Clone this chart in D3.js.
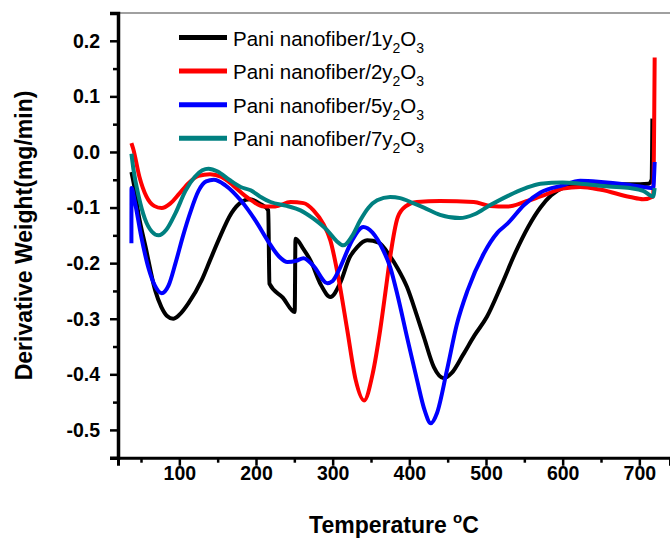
<!DOCTYPE html>
<meta charset="utf-8">

<!-- Load d3.js -->
<script src="https://d3js.org/d3.v7.min.js"></script>
<style>
  body { margin: 0; background: #fff; }
  text { font-family: "Liberation Sans", Arial, sans-serif; }
</style>

<div id="my_dataviz"></div>

<script>
// series names and colours
var seriesNames = ["1", "2", "5", "7"];
var seriesColors = ["#000000", "#ff0000", "#0000ff", "#008080"];

// tick values and labels
var xTicks = [100, 200, 300, 400, 500, 600, 700];
var xTickLabels = ["100", "200", "300", "400", "500", "600", "700"];
var xMinor = [50, 150, 250, 350, 450, 550, 650, 750];
var yTicks = [0.2, 0.1, 0.0, -0.1, -0.2, -0.3, -0.4, -0.5];
var yTickLabels = ["0.2", "0.1", "0.0", "-0.1", "-0.2", "-0.3", "-0.4", "-0.5"];
var yMinor = [0.25, 0.15, 0.05, -0.05, -0.15, -0.25, -0.35, -0.45, -0.55];

// [temperature, derivative weight]
var pani1 = [[37.5,-0.036],[41,-0.06],[46.5,-0.11],[56,-0.171],[68.5,-0.249],[76.6,-0.279],[84,-0.295],[92,-0.3],[100,-0.293],[112,-0.272],[129,-0.231],[140,-0.195],[151,-0.159],[168,-0.11],[181,-0.09],[192,-0.085],[205,-0.093],[216,-0.105],[217.5,-0.237],[235,-0.262],[250.5,-0.288],[251.5,-0.156],[262,-0.175],[271,-0.195],[285,-0.24],[297,-0.261],[310,-0.235],[322,-0.19],[332,-0.171],[345,-0.159],[360,-0.163],[375,-0.188],[385,-0.21],[397,-0.243],[410,-0.295],[419,-0.333],[432,-0.387],[445,-0.407],[455,-0.398],[470,-0.365],[485,-0.33],[501,-0.297],[520,-0.24],[538,-0.182],[555,-0.135],[571,-0.1],[585,-0.078],[601,-0.064],[630,-0.057],[660,-0.058],[690,-0.058],[712,-0.057],[716,-0.05],[717,0.06]];
var pani2 = [[37.5,0.016],[40,0.005],[48,-0.045],[57,-0.08],[67,-0.097],[77,-0.101],[88,-0.093],[100,-0.075],[112,-0.056],[125,-0.043],[140,-0.04],[155,-0.045],[170,-0.06],[185,-0.078],[195,-0.088],[210,-0.098],[225,-0.098],[245,-0.09],[262,-0.092],[275,-0.105],[288,-0.13],[297,-0.159],[308,-0.23],[319,-0.32],[330,-0.41],[341,-0.447],[352,-0.4],[362,-0.32],[370,-0.24],[375,-0.189],[385,-0.117],[395,-0.098],[410,-0.09],[440,-0.088],[484,-0.09],[505,-0.097],[528,-0.098],[550,-0.09],[571,-0.08],[600,-0.066],[623,-0.063],[650,-0.068],[688,-0.081],[705,-0.085],[718,-0.08],[720,0.17]];
var pani5 = [[37.5,-0.164],[37.6,-0.065],[42,-0.09],[50,-0.15],[60,-0.21],[68,-0.24],[77,-0.254],[86,-0.24],[95,-0.2],[105,-0.15],[114,-0.11],[125,-0.07],[135,-0.053],[145,-0.05],[160,-0.06],[180,-0.087],[200,-0.125],[215,-0.159],[230,-0.188],[241,-0.198],[252,-0.196],[262,-0.191],[275,-0.205],[293,-0.236],[300,-0.232],[310,-0.207],[325,-0.16],[340,-0.135],[352,-0.145],[366,-0.177],[375,-0.207],[385,-0.26],[397,-0.333],[410,-0.41],[420,-0.465],[428,-0.488],[436,-0.47],[449,-0.393],[462,-0.31],[476,-0.249],[497,-0.183],[515,-0.145],[528,-0.129],[550,-0.095],[571,-0.073],[600,-0.06],[623,-0.052],[650,-0.054],[680,-0.058],[710,-0.064],[718,-0.065],[720,-0.018]];
var pani7 = [[37.5,-0.003],[40,-0.03],[47,-0.08],[55,-0.12],[64,-0.143],[73,-0.15],[83,-0.14],[95,-0.11],[108,-0.07],[120,-0.045],[130,-0.033],[138,-0.03],[150,-0.035],[165,-0.05],[180,-0.063],[193,-0.069],[205,-0.08],[219,-0.09],[240,-0.097],[258,-0.105],[275,-0.12],[293,-0.141],[305,-0.16],[314,-0.168],[325,-0.152],[336,-0.123],[347,-0.1],[358,-0.087],[375,-0.081],[388,-0.083],[405,-0.092],[419,-0.1],[440,-0.113],[466,-0.119],[485,-0.112],[505,-0.096],[530,-0.078],[550,-0.066],[571,-0.057],[600,-0.055],[623,-0.057],[660,-0.062],[688,-0.065],[705,-0.07],[718,-0.08],[720,-0.065]];

var allSeries = [pani1, pani2, pani5, pani7];

// set the dimensions and margins of the graph
var margin = {top: 13, right: 0, bottom: 80.3, left: 118},
    width = 670 - margin.left - margin.right,
    height = 538 - margin.top - margin.bottom;

var svgRoot = d3.select("#my_dataviz")
  .append("svg")
    .attr("width", 670)
    .attr("height", 538);
var svg = svgRoot.append("g")
    .attr("transform", "translate(" + margin.left + "," + margin.top + ")");

var x = d3.scaleLinear().domain([20, 740]).range([0, width]);
var y = d3.scaleLinear().domain([-0.55, 0.25]).range([height, 0]);

// top frame line (grey)
svg.append("line")
  .attr("x1", 0).attr("x2", width)
  .attr("y1", 0).attr("y2", 0)
  .attr("stroke", "#808080")
  .attr("stroke-width", 1.5);

// curves
var line = d3.line()
  .x(function(d) { return x(d[0]); })
  .y(function(d) { return y(d[1]); })
  .curve(d3.curveMonotoneX);

allSeries.forEach(function(s, i) {
  svg.append("path")
    .datum(s)
    .attr("fill", "none")
    .attr("stroke", seriesColors[i])
    .attr("stroke-width", 4)
    .attr("stroke-linejoin", "round")
    .attr("d", line);
});

// X axis
var xAxis = svg.append("g")
  .attr("transform", "translate(0," + height + ")");
xAxis.append("g")
  .call(d3.axisBottom(x).tickValues(xMinor).tickSize(5).tickFormat(""))
  .call(function(g) { g.select(".domain").remove(); });
xAxis.append("g")
  .call(d3.axisBottom(x).tickValues(xTicks).tickSize(8)
    .tickFormat(function(d, i) { return xTickLabels[i]; }))
  .call(function(g) { g.select(".domain").attr("stroke-width", 3); })
  .selectAll("text")
    .attr("y", 22)
    .attr("dy", 0)
    .style("font-size", "19.5px")
    .style("font-weight", "bold")
    .attr("fill", "#000");
xAxis.selectAll(".tick line").attr("stroke-width", 2.5);

// Y axis
var yAxis = svg.append("g");
yAxis.append("g")
  .call(d3.axisLeft(y).tickValues(yMinor).tickSize(5).tickFormat(""))
  .call(function(g) { g.select(".domain").remove(); });
yAxis.append("g")
  .call(d3.axisLeft(y).tickValues(yTicks).tickSize(8)
    .tickFormat(function(d, i) { return yTickLabels[i]; }))
  .call(function(g) { g.select(".domain").attr("stroke-width", 3.5); })
  .selectAll("text")
    .attr("x", -18)
    .attr("dy", "0.33em")
    .style("font-size", "19.5px")
    .style("font-weight", "bold")
    .attr("fill", "#000");
yAxis.selectAll(".tick line").attr("stroke-width", 2.5);
yAxis.selectAll("text").attr("font-family", null);
xAxis.selectAll("text").attr("font-family", null);

// axis titles
var xt = svgRoot.append("text")
  .attr("x", 394)
  .attr("y", 533)
  .attr("text-anchor", "middle")
  .style("font-size", "23px")
  .style("font-weight", "bold")
  .text("Temperature ");
xt.append("tspan").attr("dy", -10).style("font-size", "15px").text("o");
xt.append("tspan").attr("dy", 10).text("C");

svgRoot.append("text")
  .attr("transform", "translate(31.5,235.5)rotate(-90)")
  .attr("text-anchor", "middle")
  .style("font-size", "23px")
  .style("font-weight", "bold")
  .text("Derivative Weight(mg/min)");

// legend
var legend = svgRoot.append("g");
seriesNames.forEach(function(n, i) {
  var ly = 37.5 + i * 33.6;
  legend.append("line")
    .attr("x1", 179).attr("x2", 227)
    .attr("y1", ly).attr("y2", ly)
    .attr("stroke", seriesColors[i])
    .attr("stroke-width", 5);
  var t = legend.append("text")
    .attr("x", 233)
    .attr("y", ly + 8)
    .style("font-size", "20.5px")
    .attr("fill", "#000")
    .text("Pani nanofiber/" + n + "y");
  t.append("tspan").attr("dy", 7).style("font-size", "14px").text("2");
  t.append("tspan").attr("dy", -7).text("O");
  t.append("tspan").attr("dy", 7).style("font-size", "14px").text("3");
});
</script>
